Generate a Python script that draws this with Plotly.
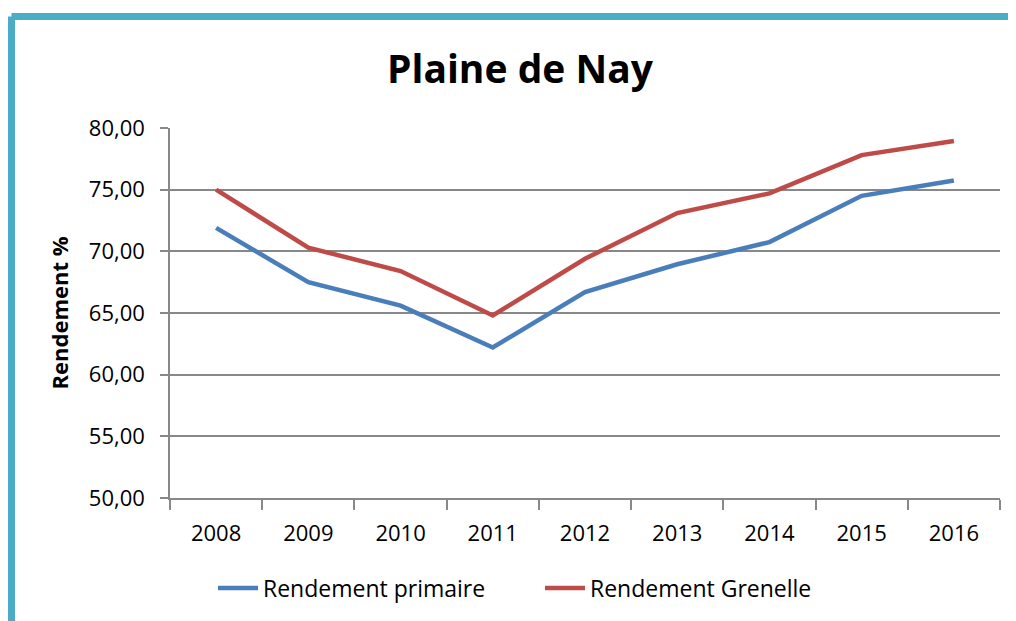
import plotly.graph_objects as go

years = ["2008", "2009", "2010", "2011", "2012", "2013", "2014", "2015", "2016"]
rendement_primaire = [71.9, 67.5, 65.6, 62.2, 66.7, 68.95, 70.75, 74.5, 75.75]
rendement_grenelle = [75.0, 70.3, 68.4, 64.8, 69.4, 73.1, 74.7, 77.8, 78.95]
y_ticks = [50, 55, 60, 65, 70, 75, 80]
y_tick_labels = ["50,00", "55,00", "60,00", "65,00", "70,00", "75,00", "80,00"]

FONT = "Open Sans, Noto Sans, sans-serif"
OFF = 8  # page body margin
W, H = 1016 - OFF, 621 - OFF
ML, MR, MT, MB = 170 - OFF, 16, 128 - OFF, 123
PW, PH = W - ML - MR, H - MT - MB

def px_x(x):
    return (x - OFF - ML) / PW

def px_y(y):
    return 1 + (MT - (y - OFF)) / PH

fig = go.Figure()
fig.add_trace(go.Scatter(x=years, y=rendement_primaire, mode="lines",
                         name="Rendement primaire",
                         line=dict(color="#4a7ebb", width=4.5)))
fig.add_trace(go.Scatter(x=years, y=rendement_grenelle, mode="lines",
                         name="Rendement Grenelle",
                         line=dict(color="#be4b48", width=4.5)))

frame_x = px_x(11.5)
frame_y = px_y(16.5)
fig.add_shape(type="line", xref="paper", yref="paper",
              x0=frame_x, x1=px_x(1100), y0=frame_y, y1=frame_y,
              line=dict(color="#4bacc6", width=7))
fig.add_shape(type="line", xref="paper", yref="paper",
              x0=frame_x, x1=frame_x, y0=frame_y, y1=px_y(700),
              line=dict(color="#4bacc6", width=7))

fig.add_annotation(text="<b>Plaine de Nay</b>", xref="paper", yref="paper",
                   x=px_x(520), y=px_y(68), xanchor="center", yanchor="middle",
                   showarrow=False, font=dict(family=FONT, size=39, color="black"))

fig.update_layout(
    width=W, height=H,
    margin=dict(l=ML, r=MR, t=MT, b=MB),
    paper_bgcolor="white", plot_bgcolor="white",
    font=dict(family=FONT, size=22, color="black"),
    showlegend=True,
    legend=dict(orientation="h", x=px_x(213), xanchor="left",
                y=px_y(588), yanchor="middle",
                font=dict(family=FONT, size=23, color="black"),
                itemwidth=40, tracegroupgap=0, entrywidth=272),
)
fig.update_xaxes(type="category", showgrid=False, showline=True,
                 linecolor="#888888", linewidth=1.5,
                 ticks="outside", tickson="boundaries", ticklen=10,
                 tickcolor="#888888", tickwidth=1.5,
                 tickfont=dict(family=FONT, size=22), ticklabelstandoff=15,
                 range=[-0.5, 8.5])
fig.update_yaxes(range=[50, 80], tickvals=y_ticks, ticktext=y_tick_labels,
                 showgrid=True, gridcolor="#888888", gridwidth=1.5,
                 showline=True, linecolor="#888888", linewidth=1.5,
                 ticks="outside", ticklen=8, tickcolor="#888888", tickwidth=1.5,
                 zeroline=False, ticklabelstandoff=11,
                 tickfont=dict(family=FONT, size=22),
                 title=dict(text="<b>Rendement %</b>", standoff=14,
                            font=dict(family=FONT, size=22)))

fig.write_html("out.html")
